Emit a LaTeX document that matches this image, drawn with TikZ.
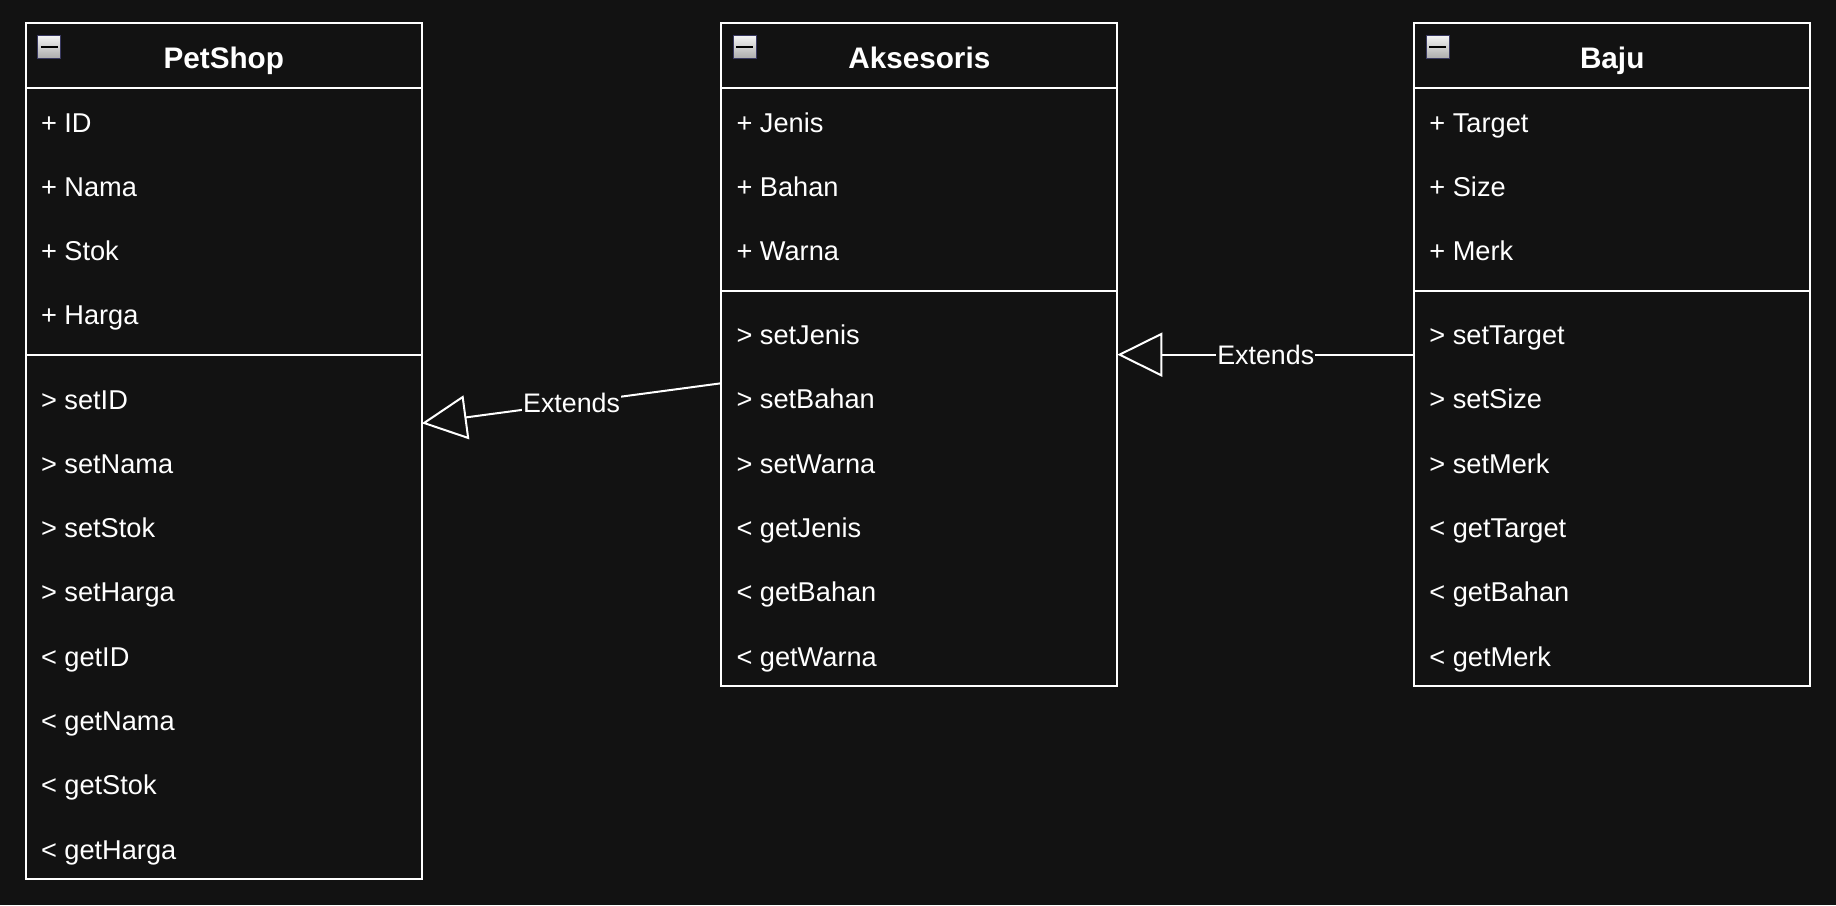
\documentclass[tikz,border=0pt]{standalone}
\usepackage{fontspec}
\setmainfont{Liberation Sans}
\usepackage{xcolor}
\usepackage{tikz}
\usetikzlibrary{positioning, calc, arrows.meta}

\definecolor{bgcol}{RGB}{18,18,18}
\newcommand{\umlitem}{\fontsize{27.2}{32}\selectfont}
\newcommand{\umltitle}{\fontsize{29.7}{35}\selectfont\bfseries}
\newcommand{\umllabel}{\fontsize{26.8}{31}\selectfont}

\tikzset{
  classbox/.style={draw=white, line width=2pt, minimum width=396pt, anchor=north west, outer sep=0pt, inner sep=0pt},
  sepline/.style={draw=white, line width=2pt},
  classname/.style={text=white, font=\umltitle, inner sep=0pt, text height=26.9pt, text depth=6.3pt},
  member/.style={text=white, font=\umlitem, anchor=west, inner sep=0pt, text height=24.6pt, text depth=5.8pt},
  extends/.style={draw=white, line width=2pt, -{Triangle[length=45pt, width=44pt, fill=bgcol]}},
  extlabel/.style={midway, fill=bgcol, text=white, font=\umllabel, inner sep=1pt},
  minusicon/.style={top color=gray!8, bottom color=gray!65, draw=gray!75!blue!60!black, line width=1pt}
}

\begin{document}
\begin{tikzpicture}[x=1pt, y=-1pt]
    % background
    \fill[bgcol] (0,0) rectangle (1836,905);
    \useasboundingbox (0,0) rectangle (1836,905);

    % PetShop class
    \node[classbox, minimum height=855.4pt] (petshop) at (25.8,23.4) {};
    \draw[sepline] ([yshift=-64.3pt]petshop.north west) -- ([yshift=-64.3pt]petshop.north east);
    \draw[sepline] ([yshift=-331.4pt]petshop.north west) -- ([yshift=-331.4pt]petshop.north east);
    \shade[minusicon] ([shift={(12pt,-12pt)}]petshop.north west) rectangle ++(23,23);
    \draw[black, line width=2pt] ([shift={(15pt,-23.5pt)}]petshop.north west) -- ++(17,0);
    \node[classname] (petshop-title) at ([yshift=-34.6pt]petshop.north) {PetShop};
    \foreach \txt [count=\i from 0] in {+ ID, + Nama, + Stok, + Harga}
      \node[member] (petshop-attr\i) at ($(petshop.north west)+(15,99.2+64.3*\i)$) {\txt};
    \foreach \txt [count=\i from 0] in {> setID, > setNama, > setStok, > setHarga, < getID, < getNama, < getStok, < getHarga}
      \node[member] (petshop-op\i) at ($(petshop.north west)+(15,376.2+64.3*\i)$) {\txt};

    % Aksesoris class
    \node[classbox, minimum height=662.5pt] (aksesoris) at (721.3,23.4) {};
    \draw[sepline] ([yshift=-64.3pt]aksesoris.north west) -- ([yshift=-64.3pt]aksesoris.north east);
    \draw[sepline] ([yshift=-267.1pt]aksesoris.north west) -- ([yshift=-267.1pt]aksesoris.north east);
    \shade[minusicon] ([shift={(12pt,-12pt)}]aksesoris.north west) rectangle ++(23,23);
    \draw[black, line width=2pt] ([shift={(15pt,-23.5pt)}]aksesoris.north west) -- ++(17,0);
    \node[classname] (aksesoris-title) at ([yshift=-34.6pt]aksesoris.north) {Aksesoris};
    \foreach \txt [count=\i from 0] in {+ Jenis, + Bahan, + Warna}
      \node[member] (aksesoris-attr\i) at ($(aksesoris.north west)+(15,99.2+64.3*\i)$) {\txt};
    \foreach \txt [count=\i from 0] in {> setJenis, > setBahan, > setWarna, < getJenis, < getBahan, < getWarna}
      \node[member] (aksesoris-op\i) at ($(aksesoris.north west)+(15,311.85+64.3*\i)$) {\txt};

    % Baju class
    \node[classbox, minimum height=662.5pt] (baju) at (1414.2,23.4) {};
    \draw[sepline] ([yshift=-64.3pt]baju.north west) -- ([yshift=-64.3pt]baju.north east);
    \draw[sepline] ([yshift=-267.1pt]baju.north west) -- ([yshift=-267.1pt]baju.north east);
    \shade[minusicon] ([shift={(12pt,-12pt)}]baju.north west) rectangle ++(23,23);
    \draw[black, line width=2pt] ([shift={(15pt,-23.5pt)}]baju.north west) -- ++(17,0);
    \node[classname] (baju-title) at ([yshift=-34.6pt]baju.north) {Baju};
    \foreach \txt [count=\i from 0] in {+ Target, + Size, + Merk}
      \node[member] (baju-attr\i) at ($(baju.north west)+(15,99.2+64.3*\i)$) {\txt};
    \foreach \txt [count=\i from 0] in {> setTarget, > setSize, > setMerk, < getTarget, < getBahan, < getMerk}
      \node[member] (baju-op\i) at ($(baju.north west)+(15,311.85+64.3*\i)$) {\txt};

    % inheritance
    \draw[extends] ([yshift=-28.6pt]aksesoris.west) -- ([yshift=27.8pt]petshop.east) node[extlabel] {Extends};
    \draw[extends] (baju.west) -- (aksesoris.east) node[extlabel] {Extends};
\end{tikzpicture}
\end{document}
